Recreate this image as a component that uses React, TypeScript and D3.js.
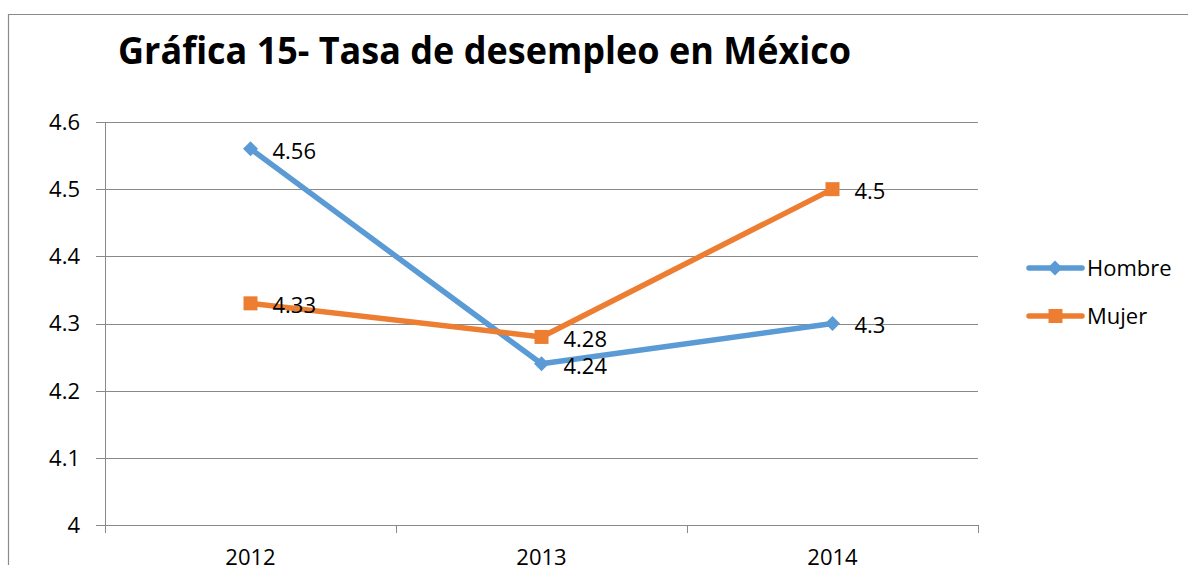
import React from "react";
import * as d3 from "d3";

const years = ["2012", "2013", "2014"];
const hombre = [4.56, 4.24, 4.3];
const mujer = [4.33, 4.28, 4.5];
const yTicks = [4, 4.1, 4.2, 4.3, 4.4, 4.5, 4.6];
const seriesNames = ["Hombre", "Mujer"];
const title = "Gráfica 15- Tasa de desempleo en México";

const W = 1188;
const H = 565;
const BLUE = "#5B9BD5";
const ORANGE = "#ED7D31";
const GRID = "#898989";
const FONT = "'Open Sans', 'Noto Sans', sans-serif";

export default function App() {
  const x = d3.scaleBand<string>().domain(years).range([105, 978]);
  const y = d3.scaleLinear().domain([4, 4.6]).range([525, 122]);
  const cx = (yr: string) => (x(yr) as number) + x.bandwidth() / 2;
  const line = d3
    .line<number>()
    .x((_, i) => cx(years[i]))
    .y((v) => y(v));
  const boundaries = [...years.map((yr) => x(yr) as number), 978];
  const diamond = (px: number, py: number, r: number) =>
    `M${px},${py - r}L${px + r},${py}L${px},${py + r}L${px - r},${py}Z`;

  const series = [
    { name: seriesNames[0], values: hombre, color: BLUE, marker: "diamond" },
    { name: seriesNames[1], values: mujer, color: ORANGE, marker: "square" },
  ];

  return (
    <svg
      width={W}
      height={H}
      style={{ position: "absolute", left: 0, top: 0, background: "#fff" }}
      fontFamily={FONT}
    >
      <rect x={0} y={0} width={W} height={H} fill="#fff" />
      {/* outer frame */}
      <path d={`M8.5,${H + 5}V14.5H${W + 5}`} fill="none" stroke="#8a8a8a" strokeWidth={1.2} />
      <text
        x={118}
        y={64}
        fontSize={38}
        fontWeight="bold"
        textLength={733}
        lengthAdjust="spacingAndGlyphs"
        fill="#000"
      >
        {title}
      </text>
      {/* gridlines */}
      {yTicks.map((t) => (
        <g key={t}>
          <line x1={96} x2={978} y1={Math.round(y(t)) + 0.5} y2={Math.round(y(t)) + 0.5} stroke={GRID} strokeWidth={1} />
          <text x={80} y={y(t)} dy="0.36em" textAnchor="end" fontSize={22} fill="#000">
            {d3.format("")(t)}
          </text>
        </g>
      ))}
      {/* y axis */}
      <line x1={105.5} x2={105.5} y1={122} y2={533} stroke={GRID} strokeWidth={1} />
      {boundaries.map((b, i) => (
        <line key={i} x1={Math.round(b) + 0.5} x2={Math.round(b) + 0.5} y1={525} y2={533} stroke={GRID} strokeWidth={1} />
      ))}
      {years.map((yr) => (
        <text key={yr} x={cx(yr)} y={565} textAnchor="middle" fontSize={22} fill="#000">
          {yr}
        </text>
      ))}
      {/* lines */}
      {series.map((s) => (
        <g key={s.name}>
          <path d={line(s.values) as string} fill="none" stroke={s.color} strokeWidth={5.5} strokeLinejoin="round" />
          {s.values.map((v, i) =>
            s.marker === "diamond" ? (
              <path key={i} d={diamond(cx(years[i]), y(v), 7.5)} fill={s.color} />
            ) : (
              <rect key={i} x={cx(years[i]) - 7} y={y(v) - 7} width={14} height={14} fill={s.color} />
            )
          )}
        </g>
      ))}
      {/* data labels */}
      {series.map((s) =>
        s.values.map((v, i) => (
          <text key={s.name + i} x={cx(years[i]) + 22} y={y(v) + 2} dy="0.36em" fontSize={22} fill="#000">
            {d3.format("")(v)}
          </text>
        ))
      )}
      {/* legend */}
      {series.map((s, i) => {
        const ly = 268 + i * 48;
        return (
          <g key={s.name}>
            <line x1={1029} x2={1082} y1={ly} y2={ly} stroke={s.color} strokeWidth={5.5} strokeLinecap="round" />
            {s.marker === "diamond" ? (
              <path d={diamond(1055, ly, 7.5)} fill={s.color} />
            ) : (
              <rect x={1048.5} y={ly - 7} width={14} height={14} fill={s.color} />
            )}
            <text x={1087} y={ly} dy="0.36em" fontSize={22} fill="#000">
              {s.name}
            </text>
          </g>
        );
      })}
    </svg>
  );
}
